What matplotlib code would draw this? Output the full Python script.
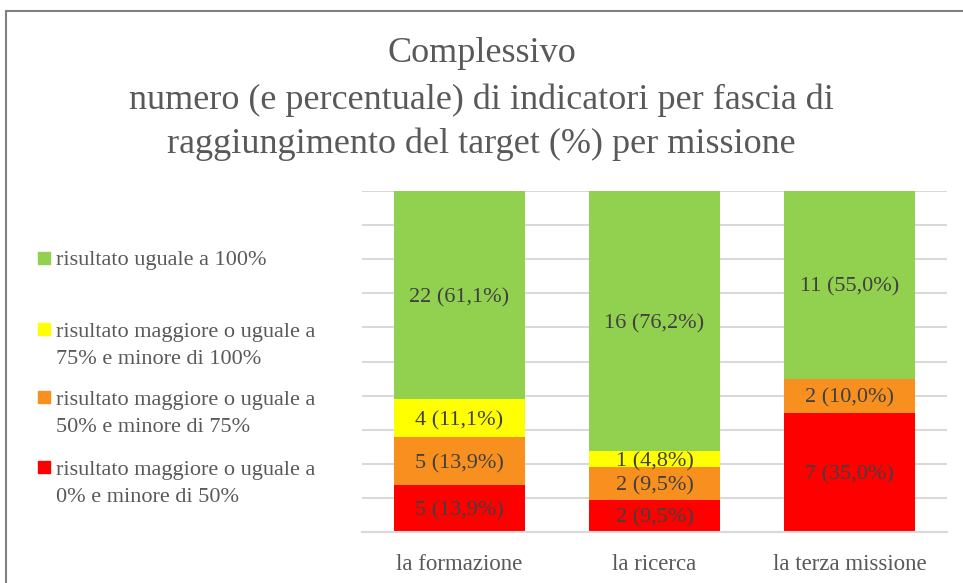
import matplotlib
matplotlib.use("Agg")
import matplotlib.pyplot as plt
from matplotlib.patches import Rectangle

plt.rcParams["font.family"] = ["Liberation Serif", "DejaVu Serif"]

# data
categories = ["la formazione", "la ricerca", "la terza missione"]
series_names = [
    "risultato maggiore o uguale a\n0% e minore di 50%",
    "risultato maggiore o uguale a\n50% e minore di 75%",
    "risultato maggiore o uguale a\n75% e minore di 100%",
    "risultato uguale a 100%",
]
counts_red = [5, 2, 7]
counts_orange = [5, 2, 2]
counts_yellow = [4, 1, 0]
counts_green = [22, 16, 11]
pct_red = [13.9, 9.5, 35.0]
pct_orange = [13.9, 9.5, 10.0]
pct_yellow = [11.1, 4.8, 0.0]
pct_green = [61.1, 76.2, 55.0]
colors = ["#FF0000", "#F7901E", "#FFFF00", "#92D050"]
title_lines = ["Complessivo",
               "numero (e percentuale) di indicatori per fascia di",
               "raggiungimento del target (%) per missione"]

GRAY = "#595959"
DARK = "#404040"

fig = plt.figure(figsize=(9.63, 5.83), dpi=100)
ax = fig.add_axes([362 / 963, 1 - 532 / 583, 585 / 963, 341 / 583])

counts = [counts_red, counts_orange, counts_yellow, counts_green]
pcts = [pct_red, pct_orange, pct_yellow, pct_green]
x = list(range(len(categories)))
bottom = [0.0] * len(categories)
for cnt, pct, col in zip(counts, pcts, colors):
    ax.bar(x, pct, 0.667, bottom=bottom, color=col, zorder=2)
    for i, (n, p) in enumerate(zip(cnt, pct)):
        if n == 0:
            continue
        lab = f"{n} ({p:.1f}%)".replace(".", ",")
        ax.text(i, bottom[i] + p / 2, lab, ha="center", va="center_baseline",
                fontsize=16, color=DARK, zorder=3)
    bottom = [b + p for b, p in zip(bottom, pct)]

ax.set_xlim(-0.5, 2.5)
ax.set_ylim(0, 100)
ax.set_yticks(range(0, 101, 10))
ax.set_yticklabels([])
ax.grid(axis="y", color="#D9D9D9", lw=1.5, zorder=0)
for s in ("top", "left", "right"):
    ax.spines[s].set_visible(False)
ax.spines["bottom"].set_color("#D9D9D9")
ax.spines["bottom"].set_linewidth(1.5)
ax.set_xticks(x)
ax.set_xticklabels(categories, fontsize=16.5, color=GRAY)
ax.tick_params(length=0, pad=16)

# title, one line at a time
for yy, ln in zip([54, 100, 144], title_lines):
    fig.text(0.5, 1 - yy / 583, ln, ha="center", va="center",
             fontsize=26, color=GRAY)

# legend (drawn manually, top entry first)
legend_y = [258, 329, 397, 467]
for name, col, yy in zip(series_names[::-1], colors[::-1], legend_y):
    fig.patches.append(Rectangle((38 / 963, 1 - (yy + 6) / 583), 12 / 963, 12 / 583,
                                 transform=fig.transFigure, color=col))
    for k, ln in enumerate(name.split("\n")):
        fig.text(56 / 963, 1 - (yy + 3 + 27 * k) / 583, ln, ha="left",
                 va="center", fontsize=16, color=GRAY)

# outer frame
fig.patches.append(Rectangle((6 / 963, -0.1), 1.2, 1 - 11 / 583 + 0.1,
                             transform=fig.transFigure, fill=False,
                             edgecolor="#7F7F7F", lw=1.5))

fig.savefig("out.png", dpi=100)
